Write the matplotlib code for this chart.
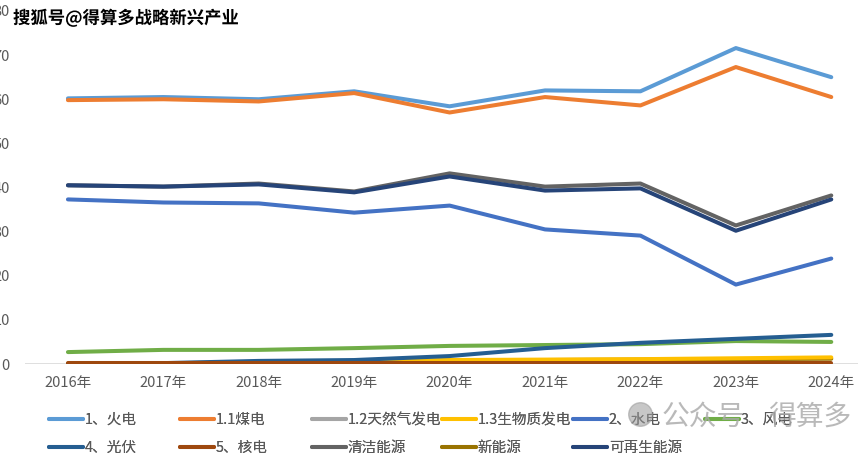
import matplotlib.pyplot as plt
import matplotlib.patheffects as pe
from matplotlib.lines import Line2D

plt.rcParams['font.family'] = ['Noto Sans CJK SC', 'DejaVu Sans']

years = ['2016年', '2017年', '2018年', '2019年', '2020年', '2021年', '2022年', '2023年', '2024年']

names = ['1、火电', '1.1煤电', '1.2天然气发电', '1.3生物质发电', '2、水电', '3、风电',
         '4、光伏', '5、核电', '清洁能源', '新能源', '可再生能源']
colors = ['#5B9BD5', '#ED7D31', '#A5A5A5', '#FFC000', '#4472C4', '#70AD47',
          '#255E91', '#9E480E', '#636363', '#997300', '#264478']

thermal = [60.2, 60.5, 60.0, 61.8, 58.4, 62.0, 61.8, 71.6, 65.0]
coal = [59.8, 60.0, 59.5, 61.4, 57.0, 60.5, 58.6, 67.3, 60.5]
gas = [0.1, 0.1, 0.1, 0.1, 0.1, 0.1, 0.1, 0.1, 0.1]
biomass = [0.1, 0.2, 0.3, 0.5, 0.9, 1.0, 1.1, 1.3, 1.5]
hydro = [37.3, 36.6, 36.4, 34.3, 35.9, 30.5, 29.1, 18.0, 23.9]
wind = [2.7, 3.2, 3.2, 3.6, 4.1, 4.3, 4.5, 5.2, 5.0]
solar = [0.0, 0.2, 0.7, 0.9, 1.8, 3.6, 4.8, 5.7, 6.6]
nuclear = [0.2, 0.2, 0.2, 0.2, 0.2, 0.2, 0.2, 0.2, 0.2]
clean = [40.5, 40.2, 40.9, 39.1, 43.2, 40.2, 40.9, 31.4, 38.2]
new_energy = [0.1, 0.2, 0.3, 0.5, 0.8, 0.9, 1.0, 1.1, 1.2]
renewable = [40.5, 40.2, 40.7, 38.9, 42.5, 39.3, 39.8, 30.2, 37.3]

series = [thermal, coal, gas, biomass, hydro, wind, solar, nuclear, clean, new_energy, renewable]
# drawing order so small series stack like the original
zorders = [3, 3, 2, 4, 3, 3, 4, 5, 3, 3, 4]

fig = plt.figure(figsize=(8.65, 4.54), dpi=100)
ax = fig.add_axes([25 / 865, 90 / 454, 833 / 865, 353 / 454])

x = list(range(len(years)))
lines = []
for vals, name, c, z in zip(series, names, colors, zorders):
    ln, = ax.plot(x, vals, color=c, lw=2.9, label=name, zorder=z, solid_capstyle='round')
    lines.append(ln)

ax.axhline(0, color='#D9D9D9', lw=1.2, zorder=1)
ax.set_xlim(-0.45, 8.28)
ax.set_ylim(0, 80)
ax.set_yticks(range(0, 81, 10))
ax.set_xticks(x)
ax.set_xticklabels(years)
ax.tick_params(axis='y', length=0, pad=11, labelsize=10.5, labelcolor='#595959')
ax.tick_params(axis='x', length=0, pad=9, labelsize=10.5, labelcolor='#595959')
for s in ax.spines.values():
    s.set_visible(False)

# legend laid out in fixed columns like the Excel original
col_x = [49, 180, 312, 442, 573, 705]
columns = [[0, 6], [1, 7], [2, 8], [3, 9], [4, 10], [5]]
for cx, idx in zip(col_x, columns):
    leg = fig.legend([lines[i] for i in idx], [names[i] for i in idx],
                     loc='upper left', bbox_to_anchor=(cx / 865, 1 - 413 / 454),
                     frameon=False, fontsize=10.5, labelcolor='#595959',
                     handlelength=2.35, handletextpad=0.1, borderpad=0,
                     borderaxespad=0, labelspacing=0.95)
    fig.add_artist(leg)

fig.text(13 / 865, 1 - 18 / 454, '搜狐号@得算多战略新兴产业', fontsize=12.5, fontweight='bold',
         color='black', va='center', ha='left',
         path_effects=[pe.withStroke(linewidth=3, foreground='white')])

# bottom-right watermark
fig.add_artist(Line2D([640 / 865], [1 - 414 / 454], transform=fig.transFigure,
                      marker='o', markersize=17, color='#9A9A9A', alpha=0.55,
                      linestyle='none', zorder=10))
fig.text(662 / 865, 1 - 417 / 454, '公众号', fontsize=20, color='#A8A8A8',
         alpha=0.8, va='center', ha='left', zorder=10)
fig.text(768 / 865, 1 - 417 / 454, '得算多', fontsize=20, color='#A8A8A8',
         alpha=0.8, va='center', ha='left', zorder=10)

fig.savefig('out.png', dpi=100)
